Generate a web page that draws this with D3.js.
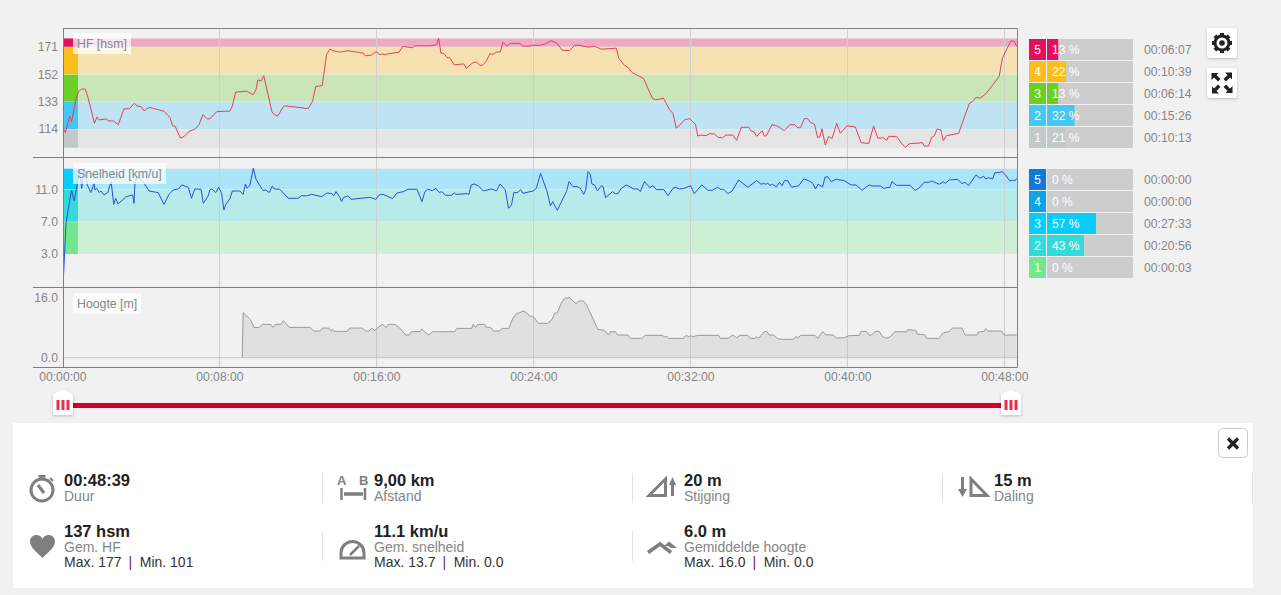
<!DOCTYPE html>
<html><head><meta charset="utf-8">
<script src="https://cdn.jsdelivr.net/npm/d3@7"></script>
<style>
html,body{margin:0;padding:0;background:#f1f1f1;overflow:hidden}
text{font-family:"Liberation Sans",Arial,sans-serif}
</style></head><body><svg id="c" width="1281" height="595"></svg>
<script>
const hrTimes=[0,6,19,25,39,48,58,67,76,95,103,110,132,138,153,168,185,202,217,226,239,247,262,285,308,326,334,342,358,366,387,402,415,427,440,448,469,491,509,517,527,560,581,589,595,605,613,638,645,656,673,679,718,749,762,772,792,805,815,825,846,871,917,924,943,953,960,966,978,984,989,1027,1038,1068,1075,1101,1121,1142,1148,1155,1164,1174,1182,1196,1225,1233,1254,1264,1274,1282,1294,1305,1312,1325,1337,1345,1358,1368,1396,1406,1427,1435,1457,1473,1492,1510,1527,1549,1564,1575,1605,1626,1646,1692,1699,1717,1727,1740,1775,1802,1812,1836,1855,1865,1875,1885,1900,1916,1934,1941,1948,1967,1977,1992,2005,2017,2028,2048,2060,2074,2097,2104,2114,2121,2138,2145,2152,2168,2186,2205,2223,2237,2247,2255,2267,2277,2284,2298,2308,2315,2321,2331,2341,2352,2366,2377,2397,2423,2441,2464,2479,2492,2509,2519,2525,2549,2566,2576,2588,2629,2634,2647,2656,2665,2673,2685,2692,2702,2739,2772,2782,2792,2804,2822,2863,2873,2899,2909,2917];
const hrValues=[114.5,111.5,123,119,135.3,140.6,141.8,141.5,135.3,118,122.3,120.3,121,119.6,119.6,117,127.9,128.1,131.8,130,129.3,126.5,129,127.7,126.3,121.9,116.3,115.9,107.7,108.4,112.6,113.8,117,124,121,121,126,126.3,126.3,130,139.5,140.2,137.8,141.1,148,147.3,151,126,124,123,129.5,130,129,128.1,133,143.4,144.1,165.4,169.3,168.2,167.2,168.2,166.6,164.7,165.2,167.2,167.2,165.6,165.9,165.4,165.9,167.2,171.2,170.3,171.6,171.6,171.6,172.3,177,166.6,166.3,163.5,163.3,158.4,159.1,156.1,160.1,160.3,158.2,158.2,161,166.1,165.6,167.2,167.5,174,171.4,173.3,173.3,171.4,171.4,172.1,171.9,172.8,175.1,173.5,168.4,168.4,171.9,172.1,170.7,171.2,169.3,170,163.1,158,156.8,153.1,149,135.3,134.1,135.3,127.2,124.9,114.5,116.5,120.3,121.2,117.2,109.1,109.8,109.4,110.8,110.5,108,108,109.8,109.8,106.1,115.2,115.2,112.6,111.9,108.9,112.8,108.9,109.8,117,115.9,112.8,117,117,114.9,114.9,121.2,121.2,118.9,117.2,108,108.7,114.2,102.9,108.7,107.5,117.9,111,116.1,115.4,104.5,104,116.1,107.5,108,106.1,108.9,108.9,103.6,101.3,103.8,104.5,102.2,102.2,108,109.4,114,113.3,105.9,109.4,111,131.8,133,136,135.3,138.3,150.3,163.1,175.1,174.7,171.2];

const speedTimes=[0,2,8,17,25,33,43,49,56,63,73,84,94,96,102,110,115,124,136,146,154,160,167,181,192,212,216,219,226,245,262,290,308,323,336,352,362,382,392,402,421,428,443,448,455,466,475,484,491,497,509,517,540,550,557,562,571,581,589,601,611,619,630,639,645,662,688,718,729,744,759,790,805,820,827,834,846,851,858,871,880,938,956,966,978,1007,1021,1040,1055,1082,1097,1106,1114,1129,1140,1150,1157,1170,1187,1196,1201,1236,1240,1248,1256,1269,1285,1310,1325,1336,1352,1362,1371,1378,1389,1399,1406,1437,1447,1460,1480,1490,1497,1511,1539,1547,1559,1572,1582,1592,1598,1605,1612,1617,1625,1634,1646,1651,1659,1680,1688,1697,1705,1722,1745,1758,1765,1778,1794,1804,1814,1837,1850,1865,1873,1885,1897,1919,1930,1953,1972,1985,2002,2009,2020,2033,2046,2066,2094,2121,2135,2142,2148,2155,2162,2170,2181,2191,2199,2206,2216,2228,2250,2265,2280,2293,2301,2309,2323,2330,2338,2349,2364,2389,2410,2425,2444,2458,2466,2474,2501,2509,2529,2535,2549,2590,2606,2617,2634,2649,2657,2680,2692,2698,2710,2736,2749,2759,2769,2792,2805,2815,2822,2831,2843,2850,2863,2873,2884,2896,2906,2911,2917];
const speedValues=[0,1.64,6.8,9.06,10.9,9.56,11.74,13.39,11.12,13.6,11.54,10.59,11.74,10.92,11.12,10.59,10.79,10.3,10.63,11.95,9.14,9.89,9.19,9.68,10.09,10.3,9.27,11.74,12.57,11.87,10.79,10.59,9.14,10.38,10.92,11.04,11.54,11.25,9.89,11.04,11,9.27,10.18,10.92,11.04,10.59,11.25,10.51,8.44,9.14,9.8,10.79,10.79,10.38,11.66,11.12,11.54,13.6,12.28,11.45,10.84,10.92,10.59,11.41,11.04,11,9.89,9.89,10.22,10.18,10.38,10.09,10.51,10.51,10.22,10.71,10,9.5,10.01,10.18,9.76,10.01,9.76,10.3,10.38,9.85,10.55,10.71,11,11,9.47,10.71,11,10.84,11.12,10.59,10.71,10.26,10.26,10.55,10.38,10.46,10.3,11.54,11.66,11.45,10.79,11.04,10.79,11.66,10.92,8.65,9.06,10.59,10.59,10.96,10.51,10.79,11.12,12.98,10.71,8.94,9.47,8.4,10.71,11.95,11.33,11.33,11.12,10.38,10.92,13.19,12.86,11.66,11.54,10.79,11.45,11.33,9.97,10.71,10.46,10.46,11.04,11.54,11.04,11.04,10.71,11.95,11.21,11.45,10.96,10.96,10.22,11.12,11.25,11.04,11.08,11.45,10.46,11.54,10.88,10.88,11.25,11,11,10.46,10.79,12.15,11.25,12.07,11.62,11.74,11.62,11.74,11.49,11.62,11.29,11.87,11.45,12.07,12.07,11.25,11.45,12.28,12.07,11.74,11.04,11.62,11.29,12.48,12.57,11.95,12.24,12.07,11.54,11.54,10.88,11.33,11.54,11.41,11.41,11.12,11.25,11.95,11.49,11.49,10.88,11.12,11.87,11.87,12.03,11.62,11.95,11.74,12.15,12.24,11.7,11.87,11.45,12.77,12.36,12.61,12.28,12.44,12.28,13.06,13.06,13.19,12.69,12.03,12.15,12.03,12.36];

const altTimes=[0,547,550,573,583,598,609,634,642,649,665,673,691,754,766,785,793,812,820,824,829,869,876,915,924,935,943,953,975,988,995,1014,1027,1047,1057,1065,1092,1096,1118,1129,1197,1204,1249,1254,1261,1268,1289,1294,1307,1316,1335,1342,1363,1375,1387,1396,1406,1416,1426,1436,1454,1482,1495,1503,1511,1523,1533,1548,1557,1569,1576,1591,1601,1635,1655,1668,1673,1689,1696,1727,1735,1770,1780,1834,1839,1844,1852,1897,1905,1913,1920,1925,1943,2005,2010,2034,2046,2050,2060,2070,2094,2101,2116,2122,2127,2145,2153,2160,2173,2185,2201,2234,2241,2246,2257,2300,2308,2323,2333,2356,2364,2389,2402,2435,2441,2457,2465,2473,2483,2496,2506,2520,2532,2544,2580,2583,2608,2613,2635,2642,2678,2692,2710,2720,2749,2759,2795,2799,2817,2822,2829,2871,2878,2916];
const altValues=[0,0,12,10.04,8.09,8,8.89,8.89,8.09,8.89,8.89,9.87,8.09,8.09,7.11,7.11,7.91,7.91,7.11,7.56,7.02,7.02,7.91,7.91,7.11,7.11,7.82,7.29,8.89,8.09,8.89,8.89,8.09,6.04,6.04,6.93,6.93,7.64,6.04,6.93,6.93,7.82,7.82,8.89,8.09,8.89,8.89,8.09,8.09,7.11,7.11,7.82,7.82,10.49,11.82,12,12.44,12.09,11.11,11.02,9.16,9.16,10.22,11.82,12,14.49,15.82,16,15.38,14.31,15.11,15.11,14.04,7.56,7.29,6.04,6.93,6.93,6.04,6.04,5.16,5.16,5.96,5.96,5.51,5.78,5.16,5.16,5.96,5.6,5.87,5.6,5.96,5.96,5.16,5.16,5.96,5.96,5.33,5.96,5.96,5.16,5.16,5.6,5.16,7.02,6.93,6.04,6.04,5.07,4.89,4.89,5.6,5.33,5.96,5.96,5.16,6.93,6.13,6.04,5.24,5.33,5.87,5.96,7.02,7.02,6.04,6.04,7.02,7.02,5.6,5.16,5.78,6.93,6.93,7.47,7.29,6.31,6.13,5.16,5.16,6.67,6.93,7.91,7.91,6.04,6.04,6.84,7.02,7.73,7.11,7.11,6.04,6.04];

const timeTicks=[0,480,960,1440,1920,2400,2880];
const timeLabels=["00:00:00","00:08:00","00:16:00","00:24:00","00:32:00","00:40:00","00:48:00"];

const hrZoneBounds=[101,114,133,152,171,177];
const hrZoneKey=["#c2c9c9","#46c6f0","#6bcf25","#fdbe1d","#e2105c"];
const hrZoneBand=["#e3e4e3","#bee3f3","#cbe6b6","#f5e2b0","#ecaac3"];
const hrTicks=[114,133,152,171];
const speedZoneBounds=[3,7,11,13.6];
const speedZoneKey=["#71e890","#33dada","#06cdfb"];
const speedZoneBand=["#ccefd5","#b7ebea","#aae6f7"];
const speedTicks=[3,7,11];
const altTicks=[0,16];

const hrRowNames=["5","4","3","2","1"];
const hrRowColors=["#e2105c","#fdbe1d","#6bcf25","#46c6f0","#c2c9c9"];
const hrRowPct=[13,22,13,32,21];
const hrRowTimes=["00:06:07","00:10:39","00:06:14","00:15:26","00:10:13"];
const speedRowNames=["5","4","3","2","1"];
const speedRowColors=["#0f7bd8","#0fa3e4","#06cdfb","#33dada","#71e890"];
const speedRowPct=[0,0,57,43,0];
const speedRowTimes=["00:00:00","00:00:00","00:27:33","00:20:56","00:00:03"];

const statValues=["00:48:39","9,00 km","20 m","15 m","137 hsm","11.1 km/u","6.0 m"];
const statLabels=["Duur","Afstand","Stijging","Daling","Gem. HF","Gem. snelheid","Gemiddelde hoogte"];
const statMax=["Max. 177","Max. 13.7","Max. 16.0"];
const statMin=["Min. 101","Min. 0.0","Min. 0.0"];

const svg=d3.select("#c");
const TXT="#868686", X0=63.5, X1=1017.5;
const x=d3.scaleLinear().domain([0,2880]).range([63.4,1004.7]);
const xTick=d3.scaleLinear().domain([0,2880]).range([62.4,1004.4]);
const yHr=d3.scaleLinear().domain([114,171]).range([129,46.7]);
const ySp=d3.scaleLinear().domain([3,11]).range([254,189.3]);
const yAl=d3.scaleLinear().domain([0,16]).range([357.7,297.7]);

// zone bands
function bands(bounds,band,key,y){
  const g=svg.append("g");
  d3.range(band.length).forEach(i=>{
    const top=y(bounds[i+1]),bot=y(bounds[i]);
    g.append("rect").attr("x",X0).attr("width",X1-X0).attr("y",top+.5).attr("height",bot-top-.5).attr("fill",band[i]);
    g.append("rect").attr("x",X0).attr("width",14.5).attr("y",top+.5).attr("height",bot-top-.5).attr("fill",key[i]);
  });
}
bands(hrZoneBounds,hrZoneBand,hrZoneKey,yHr);
bands(speedZoneBounds,speedZoneBand,speedZoneKey,ySp);

// gridlines
svg.append("g").selectAll("line").data(timeTicks.slice(1)).join("line")
  .attr("x1",d=>Math.floor(xTick(d))+.5).attr("x2",d=>Math.floor(xTick(d))+.5).attr("y1",28).attr("y2",367)
  .attr("stroke","#cfcfcf").attr("stroke-width",1);

// altitude
svg.append("line").attr("x1",X0).attr("x2",X1).attr("y1",yAl(0)).attr("y2",yAl(0)).attr("stroke","#c8c8c8");
const altData=altTimes.map((t,i)=>[t,altValues[i]]);
svg.append("path").datum(altData)
  .attr("d",d3.area().x(d=>x(d[0])).y0(yAl(0)).y1(d=>yAl(d[1])))
  .attr("fill","#b8b8b8").attr("fill-opacity",.3);
svg.append("path").datum(altData.slice(1))
  .attr("d",d3.line().x(d=>x(d[0])).y(d=>yAl(d[1])))
  .attr("fill","none").attr("stroke","#999").attr("stroke-width",1);

// series lines
svg.append("path").datum(hrTimes.map((t,i)=>[t,hrValues[i]]))
  .attr("d",d3.line().x(d=>x(d[0])).y(d=>yHr(d[1])))
  .attr("fill","none").attr("stroke","#e2405f").attr("stroke-width",1);
svg.append("path").datum(speedTimes.map((t,i)=>[t,speedValues[i]]))
  .attr("d",d3.line().x(d=>x(d[0])).y(d=>ySp(d[1])))
  .attr("fill","none").attr("stroke","#2a4fd6").attr("stroke-width",1);

// frame
const fr=svg.append("g").attr("stroke","#7f7f7f").attr("fill","none");
fr.append("path").attr("d",`M${X0} 28.5H${X1}V367.5M${X0} 28V368`);
[157.5,287.5,367.5].forEach(y=>fr.append("line").attr("x1",33).attr("x2",X1).attr("y1",y).attr("y2",y));

// panel labels
function panelLabel(txt,bx,by,bw){
  svg.append("rect").attr("x",bx).attr("y",by).attr("width",bw).attr("height",21).attr("fill","#fff").attr("fill-opacity",.72);
  svg.append("text").attr("x",bx+4).attr("y",by+14.5).attr("font-size",12.3).attr("fill",TXT).text(txt);
}
panelLabel("HF [hsm]",73,33,58);
panelLabel("Snelheid [km/u]",73,163,93);
panelLabel("Hoogte [m]",73,293,68);

// axes
function yAxis(scale,ticks,fmt){
  const g=svg.append("g").attr("transform","translate(58,0)")
    .call(d3.axisLeft(scale).tickValues(ticks).tickSize(0).tickPadding(0).tickFormat(fmt));
  g.select(".domain").remove();
  g.selectAll("text").attr("font-size",12.2).attr("fill",TXT).attr("font-family","Liberation Sans");
}
yAxis(yHr,hrTicks,d3.format("d"));
yAxis(ySp,speedTicks,d3.format(".1f"));
yAxis(yAl,altTicks,d3.format(".1f"));
const xa=svg.append("g").attr("transform","translate(0,372)")
  .call(d3.axisBottom(xTick).tickValues(timeTicks).tickSize(0).tickPadding(0).tickFormat((d,i)=>timeLabels[i]));
xa.select(".domain").remove();
xa.selectAll("text").attr("font-size",12.2).attr("fill",TXT).attr("font-family","Liberation Sans");

// zone rows
const barW=d3.scaleLinear().domain([0,100]).range([0,86]);
function rows(top,names,colors,pct,times){
  const g=svg.append("g");
  names.forEach((n,i)=>{
    const y=top+i*22;
    g.append("rect").attr("x",1029).attr("y",y).attr("width",17).attr("height",21).attr("fill",colors[i]);
    g.append("text").attr("x",1037.5).attr("y",y+15).attr("text-anchor","middle").attr("font-size",12).attr("fill","#fff").text(n);
    g.append("rect").attr("x",1047).attr("y",y).attr("width",barW(100)).attr("height",21).attr("fill","#cdcdcd");
    g.append("rect").attr("x",1047).attr("y",y).attr("width",barW(pct[i])).attr("height",21).attr("fill",colors[i]);
    g.append("text").attr("x",1052).attr("y",y+15).attr("font-size",12).attr("fill","#fff").text(pct[i]+" %");
    g.append("text").attr("x",1144).attr("y",y+15).attr("font-size",12.2).attr("fill",TXT).text(times[i]);
  });
}
rows(39,hrRowNames,hrRowColors,hrRowPct,hrRowTimes);
rows(169,speedRowNames,speedRowColors,speedRowPct,speedRowTimes);

// defs: shadow
const defs=svg.append("defs");
const fl=defs.append("filter").attr("id","sh").attr("x","-30%").attr("y","-30%").attr("width","160%").attr("height","160%");
fl.append("feDropShadow").attr("dx",0).attr("dy",1).attr("stdDeviation",1.5).attr("flood-color","#000").attr("flood-opacity",.22);

// buttons
const DARK="#222";
svg.append("rect").attr("x",1207).attr("y",28).attr("width",30).attr("height",30).attr("rx",3).attr("fill","#fff").attr("filter","url(#sh)");
svg.append("rect").attr("x",1207).attr("y",68).attr("width",30).attr("height",30).attr("rx",3).attr("fill","#fff").attr("filter","url(#sh)");
const gear=svg.append("g").attr("transform","translate(1222,43)");
d3.range(4).forEach(i=>gear.append("rect").attr("x",-2).attr("y",-10).attr("width",4).attr("height",20).attr("fill",DARK).attr("transform",`rotate(${i*45})`));
gear.append("circle").attr("r",7).attr("fill","#fff").attr("stroke",DARK).attr("stroke-width",3);
gear.append("circle").attr("r",2.8).attr("fill",DARK);
const exp=svg.append("g").attr("transform","translate(1222,83)").attr("fill",DARK);
[0,90,180,270].forEach(a=>{
  const gg=exp.append("g").attr("transform",`rotate(${a})`);
  gg.append("path").attr("d","M-10.5 -10V-3L-8 -5.5L-4 -1.5L-1.5 -4L-5.5 -8L-3.5 -10Z");
});

// slider
svg.append("rect").attr("x",70).attr("y",403).attr("width",935).attr("height",5).attr("fill","#d0002a");
function handle(cx){
  const g=svg.append("g").attr("transform",`translate(${cx},0)`);
  g.append("path").attr("d","M-10 394L0 389.5L10 394V415H-10Z").attr("fill","#fff").attr("filter","url(#sh)");
  [-5,0,5].forEach(o=>g.append("rect").attr("x",o-1.5).attr("y",400).attr("width",3).attr("height",10).attr("fill","#ee2b50"));
}
handle(63);handle(1011);

// stats panel
svg.append("rect").attr("x",13).attr("y",423).attr("width",1240).attr("height",165).attr("fill","#fff");
svg.append("rect").attr("x",1218.5).attr("y",428.5).attr("width",29).attr("height",29).attr("rx",4).attr("fill","#fff").attr("stroke","#ccc");
svg.append("path").attr("d","M1228 438.5L1238 448.5M1238 438.5L1228 448.5").attr("stroke","#222").attr("stroke-width",3.2);
[[322.5,473,503],[632.5,473,503],[942.5,473,503],[1252.5,473,503],[322.5,531,561],[632.5,531,561]].forEach(s=>
  svg.append("line").attr("x1",s[0]).attr("x2",s[0]).attr("y1",s[1]).attr("y2",s[2]).attr("stroke","#e2e2e2"));
const statX=[64,374,684,994,64,374,684], statRow=[0,0,0,0,1,1,1];
statValues.forEach((v,i)=>{
  const base=statRow[i]?537:486;
  svg.append("text").attr("x",statX[i]).attr("y",base).attr("font-size",16.5).attr("font-weight","bold").attr("fill","#222").text(v);
  svg.append("text").attr("x",statX[i]).attr("y",base+14.7).attr("font-size",14).attr("fill","#858585").text(statLabels[i]);
});
statMax.forEach((m,i)=>{
  const t=svg.append("text").attr("x",statX[i+4]).attr("y",566.7).attr("font-size",14).attr("fill","#333");
  t.append("tspan").text(m);
  t.append("tspan").attr("dx",7).attr("fill","#7a1a5e").text("|");
  t.append("tspan").attr("dx",7.5).text(statMin[i]);
});

// icons
const G="#7f7f7f";
const ic=svg.append("g");
// stopwatch
ic.append("circle").attr("cx",42).attr("cy",490).attr("r",11).attr("fill","none").attr("stroke",G).attr("stroke-width",3);
ic.append("rect").attr("x",38.5).attr("y",475).attr("width",7).attr("height",2.5).attr("fill",G);
ic.append("rect").attr("x",40.5).attr("y",476).attr("width",3).attr("height",4).attr("fill",G);
ic.append("path").attr("d","M38 485L44 493").attr("stroke",G).attr("stroke-width",3);
ic.append("path").attr("d","M50 478L53 481").attr("stroke",G).attr("stroke-width",2);
// A-B
ic.append("text").attr("x",337).attr("y",485).attr("font-size",13).attr("font-weight","bold").attr("fill",G).text("A");
ic.append("text").attr("x",359).attr("y",485).attr("font-size",13).attr("font-weight","bold").attr("fill",G).text("B");
ic.append("path").attr("d","M341.5 488V500M365 488V500").attr("stroke",G).attr("stroke-width",2.5);
ic.append("path").attr("d","M344 494H363").attr("stroke",G).attr("stroke-width",3.5);
// up triangle + arrow
ic.append("path").attr("d","M649 495.5L665.5 479V495.5Z").attr("fill","none").attr("stroke",G).attr("stroke-width",3);
ic.append("path").attr("d","M669 485L672.5 477L676 485H674V496H671V485Z").attr("fill",G);
// down arrow + triangle
ic.append("path").attr("d","M958 489L962.5 497L967 489H964V477H961V489Z").attr("fill",G);
ic.append("path").attr("d","M971 479V495.5H987Z").attr("fill","none").attr("stroke",G).attr("stroke-width",3);
// heart
ic.append("path").attr("d","M42.5 558C38 553 30 548 30 541.5C30 537.5 33 535 36.5 535C39 535 41.5 536.5 42.5 539C43.5 536.5 46 535 48.5 535C52 535 55 537.5 55 541.5C55 548 47 553 42.5 558Z").attr("fill",G);
// gauge
ic.append("path").attr("d","M341 558V553A11.5 11.5 0 0 1 364 553V558Z").attr("fill","none").attr("stroke",G).attr("stroke-width",3);
ic.append("path").attr("d","M350 555L359 546").attr("stroke",G).attr("stroke-width",2.5);
// mountains
ic.append("path").attr("d","M648 552.5L660 544L671 552.5").attr("fill","none").attr("stroke",G).attr("stroke-width",3.5);
ic.append("path").attr("d","M664 546L669 541.5L677 548L671 548L668 546Z").attr("fill",G);
</script></body></html>
